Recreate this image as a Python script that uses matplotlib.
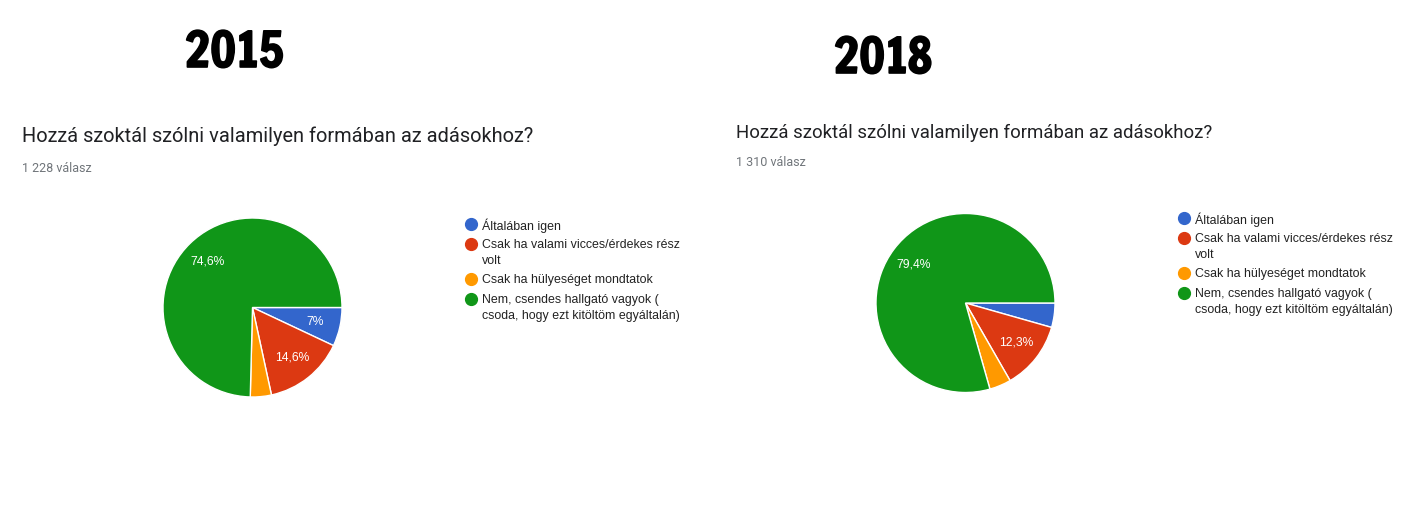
import matplotlib
matplotlib.use("Agg")
import matplotlib.pyplot as plt
from matplotlib.lines import Line2D
from matplotlib.font_manager import FontProperties, findfont
from matplotlib.textpath import TextPath
import matplotlib.patheffects as pe

# ---------------- data ----------------
years = ["2015", "2018"]
question = "Hozzá szoktál szólni valamilyen formában az adásokhoz?"
responses = ["1 228 válasz", "1 310 válasz"]
categories = [
    "Általában igen",
    "Csak ha valami vicces/érdekes rész\nvolt",
    "Csak ha hülyeséget mondtatok",
    "Nem, csendes hallgató vagyok (\ncsoda, hogy ezt kitöltöm egyáltalán)",
]
values_2015 = [7.0, 14.6, 3.8, 74.6]
values_2018 = [4.4, 12.3, 3.9, 79.4]
colors = ["#3366cc", "#dc3912", "#ff9900", "#109618"]

# ---------------- layout ----------------
W, H = 1418, 512
fig = plt.figure(figsize=(W / 100, H / 100), dpi=100)
fig.patch.set_facecolor("white")


def fx(x):
    return x / W


def fy(y):
    return 1 - y / H


# pick an Impact-like heavy condensed face for the year headings
target_h, target_w = 37.5, 95.0
best = None
for fam in ["Francois One", "Fjalla One", "Anton", "Oswald", "DejaVu Sans"]:
    fp = FontProperties(family=fam, weight="bold")
    try:
        findfont(fp, fallback_to_default=False)
    except Exception:
        continue
    ext = TextPath((0, 0), "2015", size=1, prop=fp).get_extents()
    ratio = ext.width / ext.height
    score = abs(ratio - target_w / target_h)
    if best is None or score < best[0] - 0.15:
        best = (score, fam, ext.height)
_, year_fam, ink_h = best
year_fs = target_h / ink_h * 72 / 100  # points

panels = [
    dict(values=values_2015, year_xy=(234, 67), title_xy=(22, 142), title_fs=14.4,
         resp_xy=(22, 172), pie_c=(252.5, 307.5), R=89.5,
         leg_marker_x=470.5, leg_text_x=482, leg_y0=224),
    dict(values=values_2018, year_xy=(883, 73), title_xy=(736, 138), title_fs=13.4,
         resp_xy=(736, 166), pie_c=(965.5, 303), R=89.5,
         leg_marker_x=1183.5, leg_text_x=1195, leg_y0=218),
]

line_px = 16.0   # line height within a legend label
item_gap = 19.5  # distance between single-line legend items

for yr, resp, p in zip(years, responses, panels):
    # year heading
    t = fig.text(fx(p["year_xy"][0]), fy(p["year_xy"][1]), yr,
                 family=[year_fam, "DejaVu Sans"], weight="bold", fontsize=year_fs,
                 ha="center", va="baseline", color="black")
    t.set_path_effects([pe.withStroke(linewidth=1.2, foreground="black")])

    # question title and response count
    fig.text(fx(p["title_xy"][0]), fy(p["title_xy"][1]), question,
             family="Roboto", fontsize=p["title_fs"], color="#202124",
             ha="left", va="baseline")
    fig.text(fx(p["resp_xy"][0]), fy(p["resp_xy"][1]), resp,
             family="Roboto", fontsize=9, color="#70757a", ha="left", va="baseline")

    # pie
    cx, cy = p["pie_c"]
    R = p["R"]
    ax = fig.add_axes([fx(cx - R), fy(cy + R), 2 * R / W, 2 * R / H])
    vals = p["values"]

    def fmt(pct):
        if pct < 5:
            return ""
        s = f"{pct:.1f}".rstrip("0").rstrip(".")
        return s.replace(".", ",") + "%"

    ax.pie(
        vals, colors=colors, startangle=0, counterclock=False,
        autopct=fmt, pctdistance=0.72,
        wedgeprops=dict(edgecolor="white", linewidth=1.0),
        textprops=dict(color="white", family="Liberation Sans", fontsize=8.7),
    )
    ax.set_xlim(-1.0, 1.0)
    ax.set_ylim(-1.0, 1.0)
    ax.set_aspect("equal")
    ax.axis("off")

    # legend (Google Forms style: marker aligned with first line of label)
    y = p["leg_y0"]
    for lab, col in zip(categories, colors):
        fig.add_artist(Line2D([fx(p["leg_marker_x"])], [fy(y)], marker="o",
                              markersize=8.5, color=col, linestyle="none",
                              transform=fig.transFigure))
        lines = lab.split("\n")
        for i, ln in enumerate(lines):
            fig.text(fx(p["leg_text_x"]), fy(y + i * line_px), ln,
                     family="Liberation Sans", fontsize=8.9, color="#222222",
                     ha="left", va="center_baseline")
        y += item_gap + (len(lines) - 1) * line_px

fig.savefig("out.png", dpi=100, facecolor="white")
